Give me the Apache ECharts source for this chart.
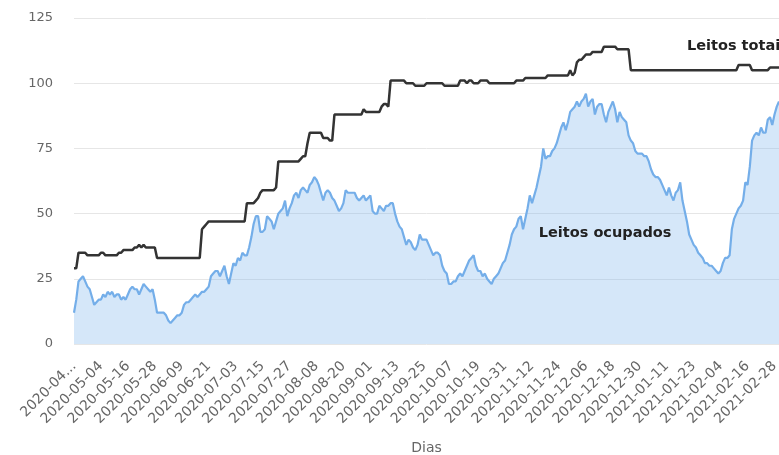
<!DOCTYPE html>
<html>
<head>
<meta charset="utf-8">
<script src="https://cdn.jsdelivr.net/npm/echarts@6/dist/echarts.min.js"></script>
<style>
html,body{margin:0;padding:0;background:#fff;overflow:hidden;}
#chart{width:779px;height:455px;}
</style>
</head>
<body>
<div id="chart"></div>
<script>
// Daily values from 2020-04-22
var startDate = '2020-04-22';
var leitosTotais = [
29,29,35,35,35,35,34,34,34,34,
34,34,35,35,34,34,34,34,34,34,
35,35,36,36,36,36,36,37,37,38,
37,38,37,37,37,37,37,33,33,33,
33,33,33,33,33,33,33,33,33,33,
33,33,33,33,33,33,33,44,45,46,
47,47,47,47,47,47,47,47,47,47,
47,47,47,47,47,47,47,54,54,54,
54,55,56,58,59,59,59,59,59,59,
60,70,70,70,70,70,70,70,70,70,
70,71,72,72,77,81,81,81,81,81,
81,79,79,79,78,78,88,88,88,88,
88,88,88,88,88,88,88,88,88,90,
89,89,89,89,89,89,89,91,92,92,
91,101,101,101,101,101,101,101,100,100,
100,100,99,99,99,99,99,100,100,100,
100,100,100,100,100,99,99,99,99,99,
99,99,101,101,101,100,101,101,100,100,
100,101,101,101,101,100,100,100,100,100,
100,100,100,100,100,100,100,101,101,101,
101,102,102,102,102,102,102,102,102,102,
102,103,103,103,103,103,103,103,103,103,
103,105,103,104,108,109,109,110,111,111,
111,112,112,112,112,112,114,114,114,114,
114,114,113,113,113,113,113,113,105,105,
105,105,105,105,105,105,105,105,105,105,
105,105,105,105,105,105,105,105,105,105,
105,105,105,105,105,105,105,105,105,105,
105,105,105,105,105,105,105,105,105,105,
105,105,105,105,105,105,107,107,107,107,
107,107,105,105,105,105,105,105,105,105,
106,106,106,106,106
];
var leitosOcupados = [
12,17,24,25,26,24,22,21,18,15,
16,17,17,19,18,20,19,20,18,19,
19,17,18,17,19,21,22,21,21,19,
21,23,22,21,20,21,17,12,12,12,
12,11,9,8,9,10,11,11,12,15,
16,16,17,18,19,18,19,20,20,21,
22,26,27,28,28,26,28,30,26,23,
27,31,30,33,32,35,34,34,37,41,
46,49,49,43,43,44,49,48,47,44,
47,50,51,52,55,49,52,54,57,58,
56,59,60,59,58,61,62,64,63,61,
58,55,58,59,58,56,55,53,51,52,
54,59,58,58,58,58,56,55,56,57,
55,56,57,51,50,50,53,52,51,53,
53,54,54,50,47,45,44,41,38,40,
39,37,36,38,42,40,40,40,38,36,
34,35,35,34,30,28,27,23,23,24,
24,26,27,26,28,30,32,33,34,30,
28,28,26,27,25,24,23,25,26,27,
29,31,32,35,38,42,44,45,48,49,
44,48,52,57,54,57,60,64,68,75,
71,72,72,74,75,77,80,83,85,82,
85,89,90,91,93,91,93,94,96,91,
93,94,88,91,92,92,88,85,89,91,
93,90,85,89,87,86,85,80,78,77,
74,73,73,73,72,72,70,67,65,64,
64,63,61,59,57,60,57,55,58,59,
62,55,51,47,42,40,38,37,35,34,
33,31,31,30,30,29,28,27,28,31,
33,33,34,44,48,50,52,53,55,62,
61,68,78,80,81,80,83,81,81,86,
87,84,88,91,93
];
var yTicks = [0, 25, 50, 75, 100, 125];
var seriesNames = ['Leitos ocupados', 'Leitos totais'];
var axisTitleX = 'Dias';
var labelOcupados = { date: '2020-11-15', value: 42.6 };
var labelTotais = { date: '2021-01-20', value: 114.3 };

// categories: consecutive days
var categories = [];
(function () {
  var p = startDate.split('-');
  var t = Date.UTC(+p[0], +p[1] - 1, +p[2]);
  for (var i = 0; i < leitosTotais.length; i++) {
    var d = new Date(t + i * 86400000);
    var m = d.getUTCMonth() + 1, dd = d.getUTCDate();
    categories.push(d.getUTCFullYear() + '-' + (m < 10 ? '0' : '') + m + '-' + (dd < 10 ? '0' : '') + dd);
  }
})();

var chart = echarts.init(document.getElementById('chart'), null, { renderer: 'canvas' });
var seriesLabelStyle = {
  show: true,
  position: 'right',
  distance: 0,
  color: '#222',
  fontFamily: 'DejaVu Sans',
  fontWeight: 'bold',
  fontSize: 14.5
};
chart.setOption({
  animation: false,
  backgroundColor: '#fff',
  grid: { left: 74, right: 0, top: 18, bottom: 111, containLabel: false, outerBoundsMode: 'none' },
  xAxis: {
    type: 'category',
    data: categories,
    boundaryGap: false,
    name: axisTitleX,
    nameLocation: 'middle',
    nameGap: 97,
    nameTextStyle: { color: '#666', fontSize: 14, fontFamily: 'DejaVu Sans' },
    axisLine: { show: false },
    axisTick: { show: false },
    splitLine: { show: false },
    axisLabel: {
      interval: 11,
      rotate: 45,
      margin: 20,
      color: '#666',
      fontSize: 14,
      fontFamily: 'DejaVu Sans',
      hideOverlap: false,
      formatter: function (v, i) { return i === 0 ? v.slice(0, 7) + '...' : v; }
    }
  },
  yAxis: {
    type: 'value',
    min: yTicks[0],
    max: yTicks[yTicks.length - 1],
    interval: yTicks[1] - yTicks[0],
    axisLine: { show: false },
    axisTick: { show: false },
    axisLabel: { color: '#666', fontSize: 13, fontFamily: 'DejaVu Sans', margin: 21 },
    splitLine: { lineStyle: { color: '#e6e6e6', width: 1 } }
  },
  series: [
    {
      name: seriesNames[0],
      type: 'line',
      data: leitosOcupados,
      symbol: 'none',
      lineStyle: { color: '#74aee9', width: 2.2 },
      itemStyle: { color: '#74aee9' },
      areaStyle: { color: '#7cb5ec', opacity: 0.32 },
      markPoint: {
        symbol: 'circle', symbolSize: 0.01,
        data: [{ coord: [labelOcupados.date, labelOcupados.value], label: Object.assign({ formatter: seriesNames[0] }, seriesLabelStyle) }]
      },
      z: 2
    },
    {
      name: seriesNames[1],
      type: 'line',
      data: leitosTotais,
      symbol: 'none',
      lineStyle: { color: '#333', width: 2.5 },
      itemStyle: { color: '#333' },
      markPoint: {
        symbol: 'circle', symbolSize: 0.01,
        data: [{ coord: [labelTotais.date, labelTotais.value], label: Object.assign({ formatter: seriesNames[1] }, seriesLabelStyle) }]
      },
      z: 3
    }
  ]
});
</script>
</body>
</html>
